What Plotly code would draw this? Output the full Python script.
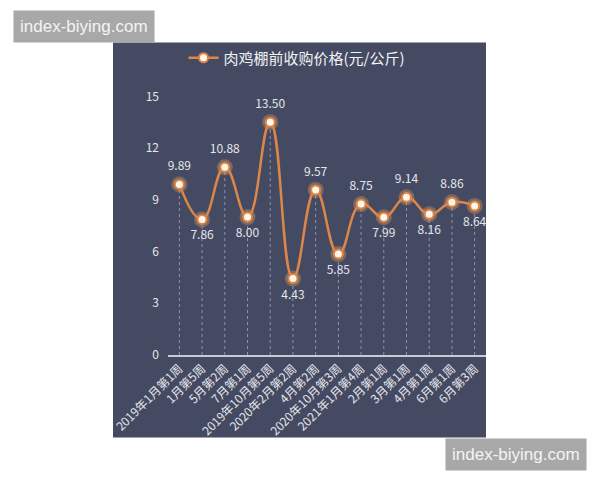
import plotly.graph_objects as go

# 肉鸡棚前收购价格 (元/公斤)
weeks = ["2019年1月第1周", "1月第5周", "5月第2周", "7月第1周", "2019年10月第5周",
         "2020年2月第2周", "4月第2周", "2020年10月第3周", "2021年1月第4周",
         "2月第1周", "3月第1周", "4月第1周", "6月第1周", "6月第3周"]
prices = [9.89, 7.86, 10.88, 8.00, 13.50, 4.43, 9.57, 5.85, 8.75, 7.99, 9.14, 8.16, 8.86, 8.64]
series_name = "肉鸡棚前收购价格(元/公斤)"
y_ticks = [0, 3, 6, 9, 12, 15]

PANEL = "#454a63"
ORANGE = "#dc8649"
TXT = "#e6e6ea"
FONT = "Noto Sans CJK SC"

# page puts the figure 8px in from the window corner
OFF = 8
# plot area in window pixels
L, R, T, B = 168 - OFF, 486 - OFF, 95 - OFF, 355 - OFF


def px_x(v):
    return (v - OFF - L) / (R - L)


def px_y(v):
    return (B - (v - OFF)) / (B - T)


fig = go.Figure()

# dashed drop lines from each point to the axis
drop_x, drop_y = [], []
for w, p in zip(weeks, prices):
    drop_x += [w, w, None]
    drop_y += [0, p, None]
fig.add_trace(go.Scatter(
    x=drop_x, y=drop_y, mode="lines",
    line=dict(color="rgba(205,208,220,0.55)", width=1, dash="dot"),
    hoverinfo="skip", showlegend=False
))

positions = ["top center" if i % 2 == 0 else "bottom center" for i in range(len(prices))]

# glow behind markers (also carries the value labels)
fig.add_trace(go.Scatter(
    x=weeks, y=prices, mode="markers+text",
    marker=dict(size=16, color="rgba(240,160,90,0.35)"),
    text=[f"{p:.2f}" for p in prices],
    textposition=positions,
    textfont=dict(color=TXT, size=12, family=FONT),
    cliponaxis=False,
    hoverinfo="skip", showlegend=False
))

fig.add_trace(go.Scatter(
    x=weeks, y=prices, name=series_name,
    mode="lines+markers",
    line=dict(color=ORANGE, width=2.5, shape="spline", smoothing=1.3),
    marker=dict(size=9, color="#fff6ea", line=dict(color=ORANGE, width=2)),
    cliponaxis=False
))

# dark panel behind the chart
fig.add_shape(type="rect", xref="paper", yref="paper", layer="below",
              x0=px_x(113), x1=px_x(486), y0=px_y(438), y1=px_y(41),
              fillcolor=PANEL, line=dict(width=0))

# watermarks
for cx, cy in [(83.5, 25), (516, 455)]:
    fig.add_annotation(
        xref="paper", yref="paper", x=px_x(cx), y=px_y(cy),
        xanchor="center", yanchor="middle",
        text="index-biying.com", showarrow=False,
        font=dict(size=17, color="#f4f4f4", family="Liberation Sans"),
        bgcolor="#a8a8a8", borderpad=6
    )

fig.update_layout(
    width=600, height=480,
    margin=dict(l=L, r=600 - R, t=T, b=480 - B),
    paper_bgcolor="white",
    plot_bgcolor="rgba(0,0,0,0)",
    font=dict(family=FONT, color=TXT),
    showlegend=True,
    legend=dict(
        orientation="h", xref="container", yref="container",
        x=(297 - OFF) / 600, y=1 - (58 - OFF) / 480, xanchor="center", yanchor="middle",
        font=dict(size=15, color="#f2f2f4", family=FONT),
        bgcolor="rgba(0,0,0,0)"
    ),
    xaxis=dict(
        type="category", range=[-0.5, len(weeks) - 0.5],
        showgrid=False, showline=True, linecolor="#c8cad6", linewidth=1.5,
        tickangle=-45, ticks="", tickfont=dict(size=12, color=TXT, family=FONT),
        zeroline=False
    ),
    yaxis=dict(
        range=[0, 15], tickvals=y_ticks, showgrid=False, zeroline=False,
        showline=False, ticks="", ticklabelstandoff=8,
        tickfont=dict(size=12, color=TXT, family=FONT)
    ),
)

fig.write_html("out.html")
